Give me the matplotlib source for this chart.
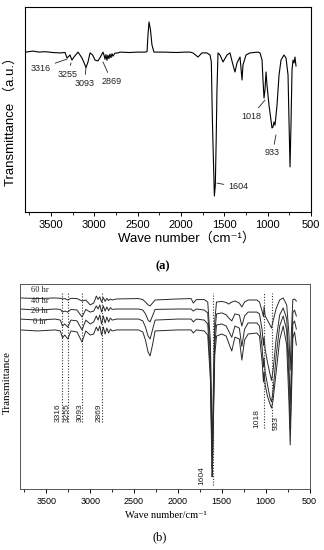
"""
FTIR spectra: (a) single spectrum with peak callouts,
(b) stacked spectra for 0-60 hr with dotted peak markers
"""
import matplotlib
matplotlib.use("Agg")
import matplotlib.pyplot as plt
from matplotlib.ticker import MultipleLocator

SANS = ["Liberation Sans", "DejaVu Sans", "Noto Sans CJK SC"]
SERIF = ["Liberation Serif", "DejaVu Serif"]

# ---- panel (a) data: wave number (cm-1) and transmittance (a.u.) ----
wn_a = [3788, 3708, 3640, 3569, 3480, 3396, 3338, 3315, 3298, 3281,
        3258, 3235, 3188, 3142, 3096, 3073, 3050, 3020, 2992, 2958,
        2930, 2900, 2888, 2877, 2866, 2854, 2843, 2831, 2820, 2808,
        2796, 2785, 2762, 2727, 2704, 2600, 2500, 2420, 2392, 2381,
        2369, 2352, 2335, 2312, 2200, 2050, 1950, 1896, 1862, 1804,
        1758, 1700, 1665, 1650, 1638, 1615, 1604, 1594, 1585, 1573,
        1550, 1515, 1469, 1435, 1400, 1377, 1354, 1319, 1296, 1285,
        1250, 1204, 1112, 1088, 1065, 1054, 1042, 1031, 1019, 1008,
        985, 962, 950, 938, 927, 915, 892, 869, 846, 812,
        788, 765, 754, 742, 731, 719, 708, 696, 685, 673]
trans_a = [78.0, 78.5, 78.0, 78.2, 77.8, 77.6, 77.8, 75.1, 75.8, 76.6,
           74.1, 75.6, 78.0, 75.1, 70.5, 73.2, 77.6, 76.6, 74.1, 73.7,
           75.6, 78.0, 76.5, 74.5, 76.8, 74.0, 76.5, 74.8, 77.0, 75.3,
           77.2, 76.0, 77.5, 77.6, 78.0, 77.8, 78.0, 78.0, 78.2, 86.3,
           92.7, 88.8, 81.5, 78.0, 78.0, 77.8, 78.0, 78.0, 77.6, 75.6,
           77.6, 77.6, 76.6, 73.2, 44.9, 7.8, 13.2, 35.1, 59.5, 77.6,
           76.6, 73.2, 76.6, 77.6, 71.7, 68.3, 72.7, 75.6, 64.4, 71.7,
           76.6, 77.6, 78.0, 77.6, 74.1, 64.4, 55.6, 59.5, 68.3, 62.0,
           52.2, 44.9, 41.0, 41.5, 43.9, 42.4, 52.2, 66.8, 74.1, 76.6,
           75.1, 66.8, 44.9, 22.0, 42.4, 69.3, 74.1, 72.7, 75.6, 71.2]

# ---- panel (b) data: four reaction times on a shared wave number grid ----
wn_b = [3800, 3600, 3400, 3340, 3316, 3290, 3255, 3220, 3150, 3093,
        3050, 3000, 2960, 2930, 2910, 2890, 2870, 2850, 2830, 2810,
        2790, 2770, 2750, 2700, 2450, 2400, 2370, 2340, 2317, 2290,
        2260, 2000, 1850, 1824, 1790, 1700, 1660, 1630, 1610, 1604,
        1595, 1580, 1560, 1500, 1450, 1421, 1386, 1350, 1300, 1271,
        1240, 1200, 1100, 1070, 1040, 1025, 1018, 1005, 980, 950,
        933, 915, 880, 840, 800, 760, 735, 720, 705, 690,
        670, 650]
trans_0hr = [77.6, 77.1, 77.6, 77.1, 73.7, 75.1, 73.2, 77.1, 76.6, 71.7,
             77.1, 75.1, 75.6, 79.0, 77.1, 79.5, 75.1, 79.0, 75.6, 78.5,
             76.1, 78.0, 77.1, 77.6, 77.6, 76.6, 72.7, 66.8, 64.9, 70.2,
             77.1, 77.6, 77.6, 76.1, 77.6, 77.1, 75.1, 53.7, 5.9, 14.1,
             33.7, 65.4, 74.6, 75.6, 74.6, 71.2, 67.3, 74.1, 73.2, 62.9,
             72.7, 75.6, 76.1, 74.6, 62.0, 52.2, 57.1, 50.7, 45.4, 41.5,
             39.5, 43.4, 57.1, 72.7, 79.5, 70.2, 43.4, 21.5, 45.9, 73.7,
             76.6, 70.2]
trans_20hr = [82.9, 82.4, 82.9, 82.4, 79.5, 80.5, 79.0, 82.4, 82.0, 77.6,
              82.4, 80.5, 81.5, 84.4, 82.4, 84.9, 80.5, 84.4, 81.0, 83.9,
              81.5, 83.4, 82.4, 82.9, 82.9, 82.0, 79.0, 74.6, 73.2, 77.6,
              82.4, 82.9, 82.9, 81.5, 82.9, 82.4, 80.5, 58.0, 10.0, 17.0,
              38.0, 70.0, 80.0, 80.5, 79.5, 77.0, 74.0, 79.5, 78.5, 69.5,
              78.0, 81.0, 81.0, 79.5, 69.0, 59.5, 64.0, 57.0, 51.0, 44.5,
              42.5, 48.0, 65.0, 79.5, 84.4, 77.5, 53.5, 29.0, 53.0, 80.5,
              82.0, 78.0]
trans_40hr = [87.8, 87.3, 87.8, 87.6, 86.3, 86.8, 86.3, 87.6, 87.3, 83.9,
              87.6, 86.3, 86.8, 89.3, 87.8, 89.8, 86.3, 89.3, 86.8, 88.8,
              87.0, 88.5, 87.6, 87.8, 87.8, 87.3, 85.4, 82.4, 81.5, 84.4,
              87.6, 87.8, 87.8, 86.8, 87.8, 87.3, 85.9, 65.0, 16.0, 22.0,
              45.0, 76.0, 85.4, 85.9, 85.0, 83.4, 82.0, 85.4, 84.9, 79.5,
              84.4, 86.3, 86.3, 85.4, 77.6, 70.0, 74.0, 68.0, 62.0, 56.0,
              53.0, 58.0, 73.0, 84.9, 88.3, 83.0, 62.0, 41.0, 62.0, 85.9,
              87.3, 84.4]
trans_60hr = [93.2, 92.9, 93.2, 93.0, 92.7, 92.9, 92.2, 93.0, 92.9, 91.7,
              92.2, 89.8, 90.7, 94.1, 92.5, 93.7, 91.2, 93.4, 91.5, 93.0,
              91.9, 92.7, 92.2, 92.7, 92.9, 92.4, 91.2, 89.8, 89.3, 90.7,
              92.2, 92.7, 92.9, 90.7, 92.4, 92.4, 91.2, 72.0, 23.0, 28.0,
              52.0, 82.0, 91.2, 91.5, 91.0, 90.2, 91.2, 91.7, 90.7, 88.8,
              91.2, 92.2, 92.2, 91.2, 86.8, 84.0, 89.0, 84.4, 82.4, 80.0,
              78.5, 82.0, 88.0, 92.2, 93.2, 89.8, 76.0, 58.0, 78.0, 92.4,
              92.7, 91.7]
time_labels = ["0 hr", "20 hr", "40 hr", "60 hr"]

# marked peaks (cm-1)
peak_wn = [3316, 3255, 3093, 2869, 1604, 1018, 933]
x_ticks = [3500, 3000, 2500, 2000, 1500, 1000, 500]


def style_x_axis(ax, labelsize, pad):
    """shared x axis setup for both panels"""
    ax.set_xlim(3800, 500)
    ax.set_ylim(0, 100)
    ax.set_xticks(x_ticks)
    ax.xaxis.set_minor_locator(MultipleLocator(250))
    ax.set_yticks([])
    ax.tick_params(axis="x", which="major", direction="out", length=3,
                   width=0.7, labelsize=labelsize, pad=pad)
    ax.tick_params(axis="x", which="minor", direction="out", length=2, width=0.6)
    for lab in ax.get_xticklabels():
        lab.set_family(SANS)


def draw_panel_a(ax):
    """single spectrum with leader-line peak labels"""
    ax.plot(wn_a, trans_a, color="black", lw=0.8)
    style_x_axis(ax, 8, 3)
    for s in ax.spines.values():
        s.set_linewidth(0.8)

    # label text position / line tip, in data coords (layout only)
    text_at = [(3615, 70.2), (3304, 67.3), (3113, 62.9), (2802, 63.9),
               (1342, 12.2), (1187, 46.8), (944, 28.8)]
    tip_at = [(3315, 74.6), (3269, 72.7), (3096, 70.7), (2900, 73.2),
              (1585, 14.1), (1031, 54.6), (904, 37.6)]
    for wn, txt, tip in zip(peak_wn, text_at, tip_at):
        ax.annotate(str(wn), xy=tip, xytext=txt, ha="center", va="center",
                    fontsize=6.5, family=SANS, color="#222222",
                    arrowprops=dict(arrowstyle="-", lw=0.6, color="#222222",
                                    shrinkA=1, shrinkB=0))

    fig = ax.figure
    fig.text(187 / 324, 1 - 238 / 550, "Wave number（cm⁻¹）", ha="center",
             va="center", fontsize=9.5, family=SANS)
    fig.text(10 / 324, 1 - 118 / 550, "Transmittance （a.u.）", rotation=90,
             ha="center", va="center", fontsize=9.5, family=SANS)
    fig.text(163 / 324, 1 - 266 / 550, "(a)", ha="center", va="center",
             fontsize=9, family=SERIF, fontweight="bold")


def draw_panel_b(ax):
    """stacked spectra with dotted peak markers"""
    for trans in [trans_0hr, trans_20hr, trans_40hr, trans_60hr]:
        ax.plot(wn_b, trans, color="#2a2a2a", lw=0.7)
    style_x_axis(ax, 6.5, 3)
    for s in ax.spines.values():
        s.set_linewidth(0.7)
        s.set_color("#555555")

    # time labels just above each curve's left end
    label_y = [79.5, 84.9, 89.8, 95.1]
    for lab, y in zip(time_labels, label_y):
        ax.text(3570, y, lab, ha="center", va="bottom", fontsize=6,
                family=SERIF, color="#222222")

    # dotted markers: lower end, label shift (cm-1) and label base
    line_bottom = [32.7, 32.7, 32.7, 32.7, 2.0, 29.8, 28.8]
    label_shift = [47, 5, 17, 34, 127, 81, -52]
    for wn, yb, dx in zip(peak_wn, line_bottom, label_shift):
        ax.plot([wn, wn], [yb, 95.5], ls=(0, (1, 1.5)), color="#333333", lw=0.8)
        ax.text(wn + dx, yb, str(wn), rotation=90, ha="center", va="bottom",
                fontsize=6, family=SANS, color="#222222")

    fig = ax.figure
    fig.text(166 / 324, 1 - 515 / 550, "Wave number/cm⁻¹", ha="center",
             va="center", fontsize=7.5, family=SERIF)
    fig.text(7 / 324, 1 - 382 / 550, "Transmittance", rotation=90,
             ha="center", va="center", fontsize=8, family=SERIF)
    fig.text(160 / 324, 1 - 537 / 550, "(b)", ha="center", va="center",
             fontsize=9, family=SERIF)


fig = plt.figure(figsize=(3.24, 5.5), dpi=100)
ax_a = fig.add_axes([25 / 324, 1 - 212 / 550, 286 / 324, 205 / 550])
ax_b = fig.add_axes([20 / 324, 1 - 489 / 550, 289.5 / 324, 205 / 550])
draw_panel_a(ax_a)
draw_panel_b(ax_b)
fig.savefig("out.png", dpi=100)
